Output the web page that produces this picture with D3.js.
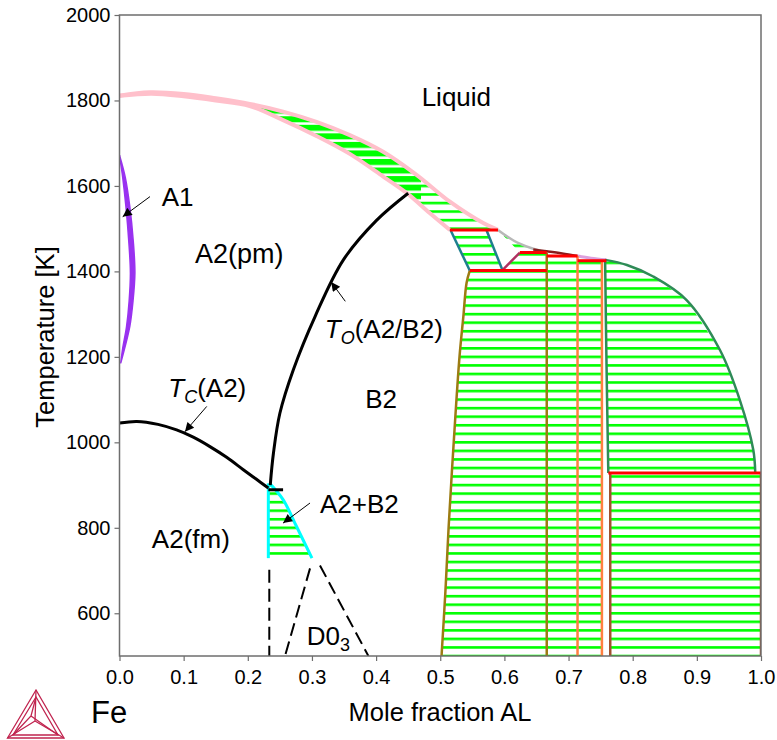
<!DOCTYPE html>
<html><head><meta charset="utf-8">
<script src="https://cdn.jsdelivr.net/npm/d3@7"></script>
<style>body{margin:0;background:#fff}svg{display:block}text{font-family:"Liberation Sans",Arial,sans-serif}</style>
</head><body>
<svg id="c" width="777" height="740"></svg>
<script>
// ---- data (x = mole fraction Al, T in K) ----
const xTicks = [0,0.1,0.2,0.3,0.4,0.5,0.6,0.7,0.8,0.9,1.0];
const yTicks = [600,800,1000,1200,1400,1600,1800,2000];
const liquidus = [[0,1811],[0.047,1819],[0.1,1815],[0.15,1805],[0.203,1792],[0.255,1774],[0.307,1750],[0.359,1719],[0.411,1680],[0.463,1626],[0.515,1563],[0.567,1513],[0.590,1497]];
const solidus = [[0,1811],[0.05,1816],[0.1,1810],[0.15,1800],[0.203,1787],[0.255,1754],[0.307,1717],[0.359,1675],[0.411,1622],[0.448,1583],[0.484,1536],[0.515,1497]];
const liqGray = [[0.590,1497],[0.605,1481],[0.622,1466],[0.645,1453],[0.666,1446]];
const liqDarkRed = [[0.645,1451],[0.666,1447],[0.690,1442],[0.714,1436]];
const liqPlum = [[0.714,1436],[0.735,1431],[0.759,1427]];
const a1Outer = [[0,1672],[0.009,1620],[0.016,1552],[0.0215,1470],[0.024,1396],[0.021,1330],[0.016,1271],[0.008,1220],[0.002,1186]];
const a1Inner = [[0,1672],[0.005,1620],[0.010,1552],[0.0145,1470],[0.017,1396],[0.015,1330],[0.011,1271],[0.005,1220],[0.002,1186]];
const tcCurve = [[0,1045],[0.027,1049],[0.06,1042],[0.089,1029],[0.115,1012],[0.141,990],[0.167,965],[0.193,936],[0.213,914],[0.232,893]];
const t0Curve = [[0.235,900],[0.240,975],[0.250,1068],[0.271,1170],[0.305,1295],[0.349,1427],[0.401,1520],[0.450,1583]];
const tcStep = [[0.232,889],[0.255,889]];
const cyanLeft = [[0.232,904],[0.232,729]];
const cyanRight = [[0.234,904],[0.255,866],[0.276,803],[0.300,729]];
const dashLines = [[[0.2335,702],[0.2335,500]],[[0.297,705],[0.258,500]],[[0.3125,712],[0.388,500]]];
const b2Edge = [[0.502,500],[0.508,650],[0.513,800],[0.521,1000],[0.530,1200],[0.536,1294],[0.541,1373],[0.546,1402]];
const feal2 = [[0.666,500],[0.666,1444]];
const fe2al5 = [[[0.714,500],[0.714,1436]],[[0.752,500],[0.752,1425]]];
const teal1 = [[0.516,1497],[0.546,1402]];
const teal2 = [[0.572,1497],[0.597,1403]];
const epsEdge = [[0.597,1403],[0.624,1444]];
const epsTop = [[0.590,1497],[0.624,1444]];
const feal3Edge = [[0.757,1427],[0.759,1200],[0.762,928]];
const alLiquidus = [[0.757,1427],[0.791,1415],[0.832,1388],[0.884,1333],[0.936,1216],[0.967,1099],[0.988,982],[0.991,930]];
const feal3Low = [[[0.765,500],[0.765,928]],[[1.0,500],[1.0,928]]];
const redLines = [[0.515,0.590,1497],[0.546,0.666,1402],[0.624,0.666,1444],[0.666,0.714,1436],[0.714,0.759,1425],[0.762,1.0,928]];
const denseSplit = 0.47;

// ---- setup ----
const svg = d3.select("#c");
const defs = svg.append("defs");
const X0=119.5, X1=761, Y0=15, Y1=656;
const x = d3.scaleLinear().domain([0,1]).range([X0,X1]);
const y = d3.scaleLinear().domain([500,2000]).range([Y1,Y0]);
const line = d3.line().x(d=>x(d[0])).y(d=>y(d[1]));
const smooth = d3.line().x(d=>x(d[0])).y(d=>y(d[1])).curve(d3.curveCatmullRom);

const step = y(500)-y(520);
function pattern(id, h){
  defs.append("pattern").attr("id",id).attr("patternUnits","userSpaceOnUse")
    .attr("width",20).attr("height",step).attr("x",0).attr("y",y(520)-1.3)
    .append("rect").attr("width",20).attr("height",h).attr("fill","#00ff00");
}
pattern("hatch",2.6);
pattern("hatchDense",6);
defs.append("clipPath").attr("id","plot").append("rect")
  .attr("x",X0).attr("y",Y0).attr("width",X1-X0).attr("height",Y1-Y0);
defs.append("clipPath").attr("id","leftPart").append("rect")
  .attr("x",X0).attr("y",Y0).attr("width",x(denseSplit)-X0).attr("height",Y1-Y0);
defs.append("clipPath").attr("id","rightPart").append("rect")
  .attr("x",x(denseSplit)).attr("y",Y0).attr("width",X1-x(denseSplit)).attr("height",Y1-Y0);
defs.append("marker").attr("id","arr").attr("viewBox","0 0 10 10").attr("refX",10).attr("refY",5)
  .attr("markerUnits","userSpaceOnUse").attr("markerWidth",12).attr("markerHeight",9).attr("orient","auto")
  .append("path").attr("d","M0,0L10,5L0,10z").attr("fill","#000");

const g = svg.append("g").attr("clip-path","url(#plot)");

// ---- hatched two-phase regions ----
const liqBand = liquidus.concat(solidus.slice().reverse());
g.append("path").attr("d",line(liqBand)+"Z").attr("fill","url(#hatchDense)").attr("clip-path","url(#leftPart)");
g.append("path").attr("d",line(liqBand)+"Z").attr("fill","url(#hatch)").attr("clip-path","url(#rightPart)");
const regions = [
  [teal1[0],teal2[0],teal2[1],teal1[1]],
  [epsEdge[0],epsEdge[1],[0.666,1444],[0.666,1402]],
  liqGray.concat([[0.666,1444]],[epsTop[1]]),
  b2Edge.concat([[0.666,1402],[0.666,500]]),
  [[0.666,500],[0.666,1436],[0.714,1436],[0.714,500]],
  [[0.714,500],[0.714,1425],[0.752,1425],[0.752,500]],
  feal3Edge.concat([[0.991,928]], alLiquidus.slice().reverse()),
  [[0.765,500],[0.765,928],[1.0,928],[1.0,500]],
  cyanRight.concat([[0.232,729],[0.232,904]])
];
g.selectAll("path.reg").data(regions).enter().append("path").attr("class","reg")
  .attr("d",d=>line(d)+"Z").attr("fill","url(#hatch)");

function stroke(data, color, w, gen, dash){
  g.append("path").attr("d",(gen||line)(data)).attr("fill","none").attr("stroke",color)
   .attr("stroke-width",w).attr("stroke-linejoin","round").attr("stroke-dasharray",dash||null);
}
// boundaries
stroke(liquidus,"#ffc0cb",4,smooth);
stroke(solidus,"#ffc0cb",4,smooth);
stroke(liqGray,"#b8b8b8",2.5,smooth);
stroke(liqDarkRed,"#8b1a1a",2.5,smooth);
stroke(liqPlum,"#dda0dd",3,smooth);
stroke(b2Edge,"#9c7c12",2.5,smooth);
stroke(feal2,"#9c7c12",2.5);
fe2al5.forEach(l=>stroke(l,"#ff8040",2.5));
stroke(teal1,"#1f7f8f",2.5);
stroke(teal2,"#1f7f8f",2.5);
stroke(epsEdge,"#b03060",2.5);
stroke(feal3Edge,"#2e8b57",2.5,smooth);
stroke(alLiquidus,"#2e8b57",2.5,smooth);
feal3Low.forEach(l=>stroke(l,"#a0522d",2.5));
redLines.forEach(r=>stroke([[r[0],r[2]],[r[1],r[2]]],"#ff0000",3));
g.append("path").attr("d",smooth(a1Outer)+smooth(a1Inner.slice().reverse()).replace("M","L")+"Z")
  .attr("fill","#9932f0").attr("stroke","#9932f0").attr("stroke-width",1.5).attr("stroke-linejoin","round");
stroke(cyanLeft,"#00ffff",3);
stroke(cyanRight,"#00ffff",3,smooth);
stroke(tcCurve,"#000",3,smooth);
stroke(t0Curve,"#000",3,smooth);
stroke(tcStep,"#000",3);
dashLines.forEach(l=>stroke(l,"#000",2,line,"13,6"));

// ---- axes ----
const axG = svg.append("g");
const ax = axG.append("g").attr("transform",`translate(0,${Y1})`)
  .call(d3.axisBottom(x).tickValues(xTicks).tickFormat(d3.format(".1f")).tickSize(5).tickPadding(9));
const ay = axG.append("g").attr("transform",`translate(${X0},0)`)
  .call(d3.axisLeft(y).tickValues(yTicks).tickFormat(d=>d).tickSize(5).tickPadding(4));
[ax,ay].forEach(a=>{
  a.select(".domain").remove();
  a.selectAll("line").attr("stroke","#6e6e6e").attr("stroke-width",1.2);
  a.selectAll("text").attr("font-size",20).attr("fill","#000").attr("font-family","Liberation Sans, Arial, sans-serif");
});
svg.append("rect").attr("x",X0).attr("y",Y0).attr("width",X1-X0).attr("height",Y1-Y0)
  .attr("fill","none").attr("stroke","#6e6e6e").attr("stroke-width",1.5);

svg.append("text").attr("x",440).attr("y",721).attr("text-anchor","middle").attr("font-size",25.5).text("Mole fraction AL");
svg.append("text").attr("transform","translate(54,337) rotate(-90)").attr("text-anchor","middle").attr("font-size",25.5).text("Temperature [K]");
svg.append("text").attr("x",91).attr("y",723).attr("font-size",31).text("Fe");

// ---- labels ----
const L = svg.append("g").attr("font-size",26);
function label(xv,tv,txt,anchor){ return L.append("text").attr("x",x(xv)).attr("y",y(tv)).attr("text-anchor",anchor||"start").text(txt); }
function arrow(a,b){ svg.append("line").attr("x1",x(a[0])).attr("y1",y(a[1])).attr("x2",x(b[0])).attr("y2",y(b[1]))
  .attr("stroke","#000").attr("stroke-width",1).attr("marker-end","url(#arr)"); }
label(0.471,1787,"Liquid");
label(0.0658,1552,"A1");
arrow([0.0475,1575],[0.005,1528]);
label(0.1177,1419,"A2(pm)").attr("font-size",27);
const tc = L.append("text").attr("x",x(0.076)).attr("y",y(1107));
tc.append("tspan").attr("font-style","italic").text("T");
tc.append("tspan").attr("font-style","italic").attr("font-size",18).attr("dy",6).text("C");
tc.append("tspan").attr("dy",-6).text("(A2)");
arrow([0.136,1084],[0.102,1025]);
const t0 = L.append("text").attr("x",x(0.504)).attr("y",y(1244)).attr("text-anchor","end");
t0.append("tspan").attr("font-style","italic").text("T");
t0.append("tspan").attr("font-style","italic").attr("font-size",18).attr("dy",6).text("O");
t0.append("tspan").attr("dy",-6).text("(A2/B2)");
arrow([0.352,1330],[0.330,1375]);
label(0.383,1080,"B2");
label(0.3125,835,"A2+B2");
arrow([0.297,858],[0.255,811]);
label(0.172,753,"A2(fm)","end");
const d03 = L.append("text").attr("x",x(0.292)).attr("y",y(526));
d03.append("tspan").text("D0");
d03.append("tspan").attr("font-size",18).attr("dy",6).text("3");

// ---- logo ----
const lg = svg.append("g").attr("fill","none").attr("stroke","#c0244f").attr("stroke-width",1.3);
const A=[36,690],B=[7.5,738],C=[64,738],O=[35,721];
lg.append("path").attr("d",`M${A}L${B}L${C}Z`);
lg.append("path").attr("d",`M${A}L${O}M${B}L${O}M${C}L${O}`);
lg.append("path").attr("d",`M36,697L13,735L58,735Z`);
lg.append("path").attr("d",`M36,697L31,716L13,735M31,716L58,735`);
</script></body></html>
